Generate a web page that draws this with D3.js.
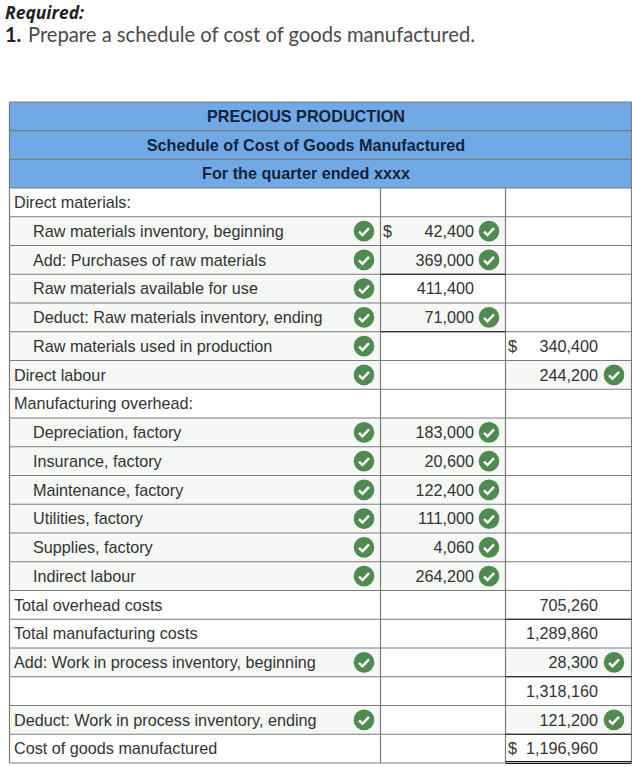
<!DOCTYPE html>
<html>
<head>
<meta charset="utf-8">
<script src="https://cdn.jsdelivr.net/npm/d3@7"></script>
<style>
body { margin: 0; background: #fff; }
svg { display: block; }
text { font-family: "Liberation Sans", Arial, sans-serif; }
</style>
</head>
<body>
<div id="chart"></div>
<script>
var headerLines = ["PRECIOUS PRODUCTION", "Schedule of Cost of Goods Manufactured", "For the quarter ended xxxx"];

var labels = [
    "Direct materials:", "Raw materials inventory, beginning", "Add: Purchases of raw materials",
    "Raw materials available for use", "Deduct: Raw materials inventory, ending", "Raw materials used in production",
    "Direct labour", "Manufacturing overhead:", "Depreciation, factory", "Insurance, factory",
    "Maintenance, factory", "Utilities, factory", "Supplies, factory", "Indirect labour",
    "Total overhead costs", "Total manufacturing costs", "Add: Work in process inventory, beginning", "",
    "Deduct: Work in process inventory, ending", "Cost of goods manufactured"
];
var indented = [0, 1, 1, 1, 1, 1, 0, 0, 1, 1, 1, 1, 1, 1, 0, 0, 0, 0, 0, 0];
var labelChecks = [0, 1, 1, 1, 1, 1, 1, 0, 1, 1, 1, 1, 1, 1, 0, 0, 1, 0, 1, 0];

var amounts1 = [null, 42400, 369000, 411400, 71000, null, null, null, 183000, 20600, 122400, 111000, 4060, 264200, null, null, null, null, null, null];
var checks1 = [0, 1, 1, 0, 1, 0, 0, 0, 1, 1, 1, 1, 1, 1, 0, 0, 0, 0, 0, 0];
var dollar1 = [1];
var ruled1 = [2, 4];

var amounts2 = [null, null, null, null, null, 340400, 244200, null, null, null, null, null, null, null, 705260, 1289860, 28300, 1318160, 121200, 1196960];
var checks2 = [0, 0, 0, 0, 0, 0, 1, 0, 0, 0, 0, 0, 0, 0, 0, 0, 1, 0, 1, 0];
var dollar2 = [5, 19];
var ruled2 = [14, 16, 18];

function main() {
    var width = 632, height = 767;
    var colX = [9.5, 380.5, 505.5, 631.5];
    var fontSize = 16.2;
    var fmt = d3.format(",");

    var svg = d3.select("#chart").append("svg").attr("width", width).attr("height", height);

    svg.append("text").attr("x", 5).attr("y", 19)
        .style("font-family", "'Open Sans'")
        .attr("font-size", 17.5).attr("font-weight", 700).attr("font-style", "italic")
        .attr("fill", "#222").text("Required:");
    svg.append("text").attr("x", 5).attr("y", 42)
        .style("font-family", "Lato").attr("font-size", 20).attr("font-weight", 700)
        .attr("fill", "#222").text("1.");
    svg.append("text").attr("x", 28).attr("y", 42)
        .style("font-family", "Lato").attr("font-size", 20.2)
        .attr("fill", "#4a4a4a").text("Prepare a schedule of cost of goods manufactured.");

    var headY = d3.scaleBand().domain(d3.range(headerLines.length)).range([102, 188]);
    var rowY = d3.scaleBand().domain(d3.range(labels.length)).range([188, 763]);

    /* header */
    svg.selectAll(".head").data(headerLines).enter().append("rect")
        .attr("x", colX[0]).attr("y", function(d, i) { return headY(i); })
        .attr("width", colX[3] - colX[0]).attr("height", headY.bandwidth())
        .attr("fill", "#70a9e6");
    svg.selectAll(".headtext").data(headerLines).enter().append("text")
        .attr("x", 306).attr("y", function(d, i) { return headY(i) + headY.bandwidth() / 2 + 5.5; })
        .attr("text-anchor", "middle").attr("font-size", fontSize).attr("font-weight", 700)
        .attr("fill", "#14243a").text(function(d) { return d; });

    /* shaded input cells */
    [labelChecks, checks1, checks2].forEach(function(flags, col) {
        flags.forEach(function(f, i) {
            if (!f) return;
            svg.append("rect").attr("x", colX[col]).attr("y", rowY(i))
                .attr("width", colX[col + 1] - colX[col]).attr("height", rowY.bandwidth())
                .attr("fill", "#f5f8f5");
        });
    });

    /* grid */
    var grid = svg.append("g").attr("stroke", "#7b7b7b").attr("stroke-width", 1.2);
    d3.range(headerLines.length).forEach(function(i) {
        grid.append("line").attr("x1", colX[0]).attr("x2", colX[3]).attr("y1", headY(i)).attr("y2", headY(i));
    });
    d3.range(labels.length + 1).forEach(function(i) {
        var y = rowY(0) + i * rowY.step();
        grid.append("line").attr("x1", colX[0]).attr("x2", colX[3]).attr("y1", y).attr("y2", y);
    });
    grid.append("line").attr("x1", colX[0]).attr("x2", colX[0]).attr("y1", 102).attr("y2", 763);
    grid.append("line").attr("x1", colX[3]).attr("x2", colX[3]).attr("y1", 102).attr("y2", 763);
    grid.append("line").attr("x1", colX[1]).attr("x2", colX[1]).attr("y1", 188).attr("y2", 763);
    grid.append("line").attr("x1", colX[2]).attr("x2", colX[2]).attr("y1", 188).attr("y2", 763);

    /* black total rules */
    function rule(col, i) {
        var y = rowY(i) + rowY.step();
        svg.append("line").attr("x1", colX[col]).attr("x2", colX[col + 1]).attr("y1", y).attr("y2", y)
            .attr("stroke", "#111").attr("stroke-width", 1.2);
    }
    ruled1.forEach(function(i) { rule(1, i); });
    ruled2.forEach(function(i) { rule(2, i); });
    var lastY = rowY(19) + rowY.step();
    [-1.5, 0.5].forEach(function(off) {
        svg.append("line").attr("x1", colX[2]).attr("x2", colX[3])
            .attr("y1", lastY + off).attr("y2", lastY + off)
            .attr("stroke", "#111").attr("stroke-width", 1);
    });

    function baseline(i) { return rowY(i) + rowY.bandwidth() / 2 + 5.7; }

    /* labels */
    svg.append("g").selectAll("text").data(labels).enter().append("text")
        .attr("x", function(d, i) { return indented[i] ? 33 : 14; })
        .attr("y", function(d, i) { return baseline(i); })
        .attr("font-size", fontSize).attr("fill", "#333").text(function(d) { return d; });

    /* amounts */
    function drawAmounts(values, dollars, right, dollarX) {
        values.forEach(function(v, i) {
            if (v === null) return;
            svg.append("text").attr("x", right).attr("y", baseline(i)).attr("text-anchor", "end")
                .attr("font-size", fontSize).attr("fill", "#333").text(fmt(v));
        });
        dollars.forEach(function(i) {
            svg.append("text").attr("x", dollarX).attr("y", baseline(i))
                .attr("font-size", fontSize).attr("fill", "#333").text("$");
        });
    }
    drawAmounts(amounts1, dollar1, 474, 383);
    drawAmounts(amounts2, dollar2, 598, 508);

    /* green check marks */
    function drawChecks(flags, cx) {
        flags.forEach(function(f, i) {
            if (!f) return;
            var cy = rowY(i) + rowY.bandwidth() / 2;
            var g = svg.append("g").attr("transform", "translate(" + cx + "," + cy + ")");
            g.append("circle").attr("r", 10.3).attr("fill", "#4f8a4f");
            g.append("path").attr("d", "M-5,0.5 L-1.5,4 L5,-3")
                .attr("fill", "none").attr("stroke", "#fff").attr("stroke-width", 2.4);
        });
    }
    drawChecks(labelChecks, 364);
    drawChecks(checks1, 489);
    drawChecks(checks2, 614);
}

main();
</script>
</body>
</html>
